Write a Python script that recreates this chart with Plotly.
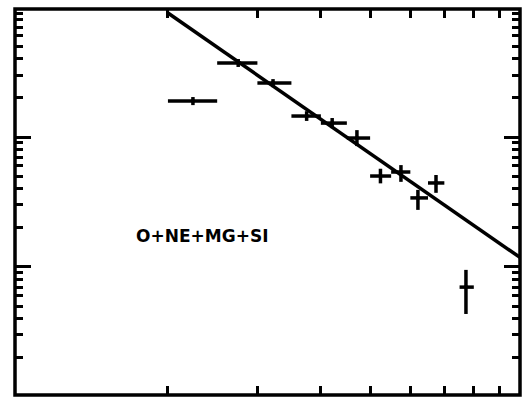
import plotly.graph_objects as go

# Energy bins (arbitrary units, log axis 10..100)
bin_lo = [20, 25, 30, 35, 40, 45, 50, 55, 60, 65, 75]
bin_hi = [25, 30, 35, 40, 45, 50, 55, 60, 65, 70, 80]
x_mid = [22.4, 27.5, 32.2, 37.5, 42.1, 47.1, 52.4, 57.5, 62.1, 67.4, 77.2]

# Flux values and their upper/lower limits
flux = [18.9, 37.1, 26.0, 14.5, 12.8, 9.82, 5.01, 5.38, 3.40, 4.43, 0.70]
flux_up = [20.3, 39.8, 27.9, 15.8, 14.0, 11.3, 5.7, 6.08, 3.92, 5.10, 0.95]
flux_dn = [17.6, 34.6, 24.2, 13.3, 11.7, 8.52, 4.4, 4.52, 2.75, 3.72, 0.435]

# Power-law fit line endpoints
fit_x = [20, 100]
fit_y = [90, 1.14]

label = "O+NE+MG+SI"

x_major = [20, 30, 40, 50, 60, 70, 80, 90]
y_major = [1, 10]
y_minor = [0.2, 0.3, 0.4, 0.5, 0.6, 0.7, 0.8, 0.9,
           2, 3, 4, 5, 6, 7, 8, 9,
           20, 30, 40, 50, 60, 70, 80, 90]

fig = go.Figure()

fig.add_trace(go.Scatter(
    x=fit_x, y=fit_y, mode="lines",
    line=dict(color="black", width=3.5),
    showlegend=False, hoverinfo="skip"))

fig.add_trace(go.Scatter(
    x=x_mid, y=flux, mode="markers",
    marker=dict(color="black", size=4),
    error_x=dict(type="data", symmetric=False,
                 array=[h - m for h, m in zip(bin_hi, x_mid)],
                 arrayminus=[m - l for l, m in zip(bin_lo, x_mid)],
                 color="black", thickness=3.5, width=0),
    error_y=dict(type="data", symmetric=False,
                 array=[u - f for u, f in zip(flux_up, flux)],
                 arrayminus=[f - d for d, f in zip(flux_dn, flux)],
                 color="black", thickness=3.5, width=0),
    showlegend=False))

fig.add_annotation(
    text=label, xref="paper", yref="paper", x=0.370, y=0.412,
    showarrow=False, xanchor="center", yanchor="middle",
    font=dict(family="DejaVu Sans", size=17, color="black", weight="bold"))

# Plot frame centred on the plot-area edges
fig.add_shape(type="rect", xref="paper", yref="paper", x0=0, x1=1, y0=0, y1=1,
              line=dict(color="black", width=3.5), layer="above")

fig.update_xaxes(
    type="log", range=[1.0, 1.994],
    showgrid=False, zeroline=False,
    showline=False, mirror="allticks",
    ticks="inside", tickmode="array", tickvals=x_major,
    ticklen=9, tickwidth=3, tickcolor="black",
    showticklabels=False)

fig.update_yaxes(
    type="log", range=[-0.985, 1.985],
    showgrid=False, zeroline=False,
    showline=False, mirror="allticks",
    ticks="inside", tickmode="array", tickvals=y_major,
    ticklen=16, tickwidth=3, tickcolor="black",
    minor=dict(ticks="inside", tickmode="array", tickvals=y_minor,
               ticklen=8, tickwidth=3, tickcolor="black", showgrid=False),
    showticklabels=False)

fig.update_layout(
    width=530, height=397, autosize=False,
    margin=dict(l=15, r=10, t=9, b=2),
    paper_bgcolor="white", plot_bgcolor="white")

fig.write_html(
    "out.html",
    config={"displayModeBar": False},
    post_script="document.body.style.margin='0';document.body.style.overflow='hidden';")
